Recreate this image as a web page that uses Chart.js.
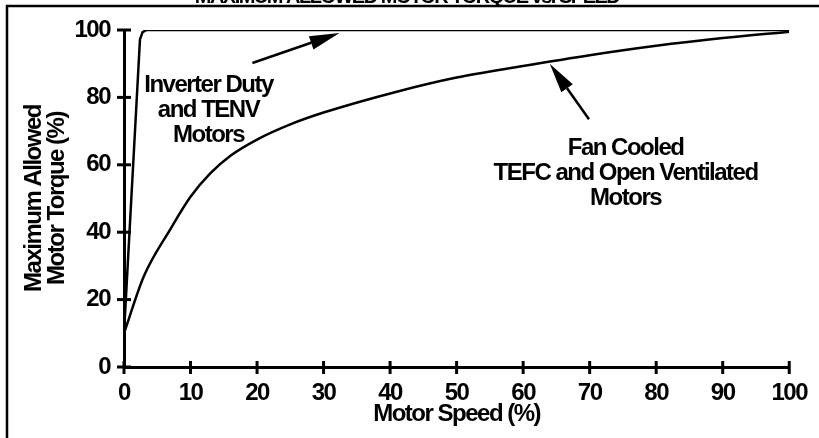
<!DOCTYPE html>
<html>
<head>
<meta charset="utf-8">
<script src="https://cdn.jsdelivr.net/npm/chart.js@4.4.1/dist/chart.umd.min.js"></script>
<style>
  html, body { margin: 0; padding: 0; background: #fff; overflow: hidden; }
  canvas { display: block; }
</style>
</head>
<body>
<canvas id="chartTorque" width="819" height="438"></canvas>
<script>
// courbe moteur ventilé (TEFC / ouvert)
const fanSpeed  = [0, 3, 7, 10, 13, 16, 20, 25, 30, 41, 50, 60, 70, 80, 90, 100];
const fanTorque = [10, 27, 41, 50.5, 57.5, 62.7, 67.5, 72, 75.5, 81.7, 85.9, 89.3, 92.5, 95.3, 97.6, 99.5];

// courbe inverter duty / TENV
const invSpeed  = [0, 2.4, 2.8, 3.4, 100];
const invTorque = [10, 97.2, 99.4, 100, 100];

const xTicks = [0, 10, 20, 30, 40, 50, 60, 70, 80, 90, 100];
const yTicks = [0, 20, 40, 60, 80, 100];

const FONT = "'Liberation Sans', Arial, sans-serif";
const SPACING = '-1.5px';

const toPoints = (xs, ys) => xs.map((x, i) => ({ x: x, y: ys[i] }));

// police étroite simulée : espacement des lettres réduit
const narrowPlugin = {
  id: 'narrow',
  beforeUpdate(chart) { chart.ctx.letterSpacing = SPACING; },
  beforeDraw(chart) { chart.ctx.letterSpacing = SPACING; }
};

// marques de graduation qui traversent les axes + cadre, titre, flèches, textes
const decorPlugin = {
  id: 'decor',
  afterDraw(chart) {
    const ctx = chart.ctx;
    const xs = chart.scales.x, ys = chart.scales.y;
    const x0 = xs.getPixelForValue(0), y0 = ys.getPixelForValue(0);
    ctx.save();
    ctx.strokeStyle = '#000';
    ctx.fillStyle = '#000';

    ctx.lineWidth = 3;
    xTicks.forEach(v => {
      const p = xs.getPixelForValue(v);
      ctx.beginPath(); ctx.moveTo(p, y0 - 6); ctx.lineTo(p, y0 + 7); ctx.stroke();
    });
    yTicks.forEach(v => {
      const p = ys.getPixelForValue(v);
      ctx.beginPath(); ctx.moveTo(x0 - 7, p); ctx.lineTo(x0 + 7, p); ctx.stroke();
    });

    // cadre
    ctx.lineWidth = 2.5;
    ctx.beginPath(); ctx.moveTo(7, 438); ctx.lineTo(7, 6); ctx.lineTo(819, 6); ctx.stroke();

    // titre coupé en haut
    ctx.font = 'bold 20px ' + FONT;
    ctx.textAlign = 'center';
    ctx.textBaseline = 'alphabetic';
    ctx.fillText('MAXIMUM ALLOWED MOTOR TORQUE vs. SPEED', 407, 3);

    const arrow = (tx, ty, hx, hy) => {
      const ax = xs.getPixelForValue(tx), ay = ys.getPixelForValue(ty);
      const bx = xs.getPixelForValue(hx), by = ys.getPixelForValue(hy);
      const ang = Math.atan2(by - ay, bx - ax);
      const len = 30, hw = 7;
      const cx = bx - len * Math.cos(ang), cy = by - len * Math.sin(ang);
      ctx.lineWidth = 2.5;
      ctx.beginPath(); ctx.moveTo(ax, ay); ctx.lineTo(cx, cy); ctx.stroke();
      ctx.beginPath();
      ctx.moveTo(bx, by);
      ctx.lineTo(cx + hw * Math.sin(ang), cy - hw * Math.cos(ang));
      ctx.lineTo(cx - hw * Math.sin(ang), cy + hw * Math.cos(ang));
      ctx.closePath(); ctx.fill();
    };
    arrow(19.3, 90.2, 32.4, 99.1);
    arrow(69.9, 73.5, 64.0, 90.0);

    ctx.font = 'bold 24px ' + FONT;
    ctx.textAlign = 'center';
    const label = (lines, x, yTop) => {
      lines.forEach((t, i) => {
        ctx.fillText(t, xs.getPixelForValue(x), ys.getPixelForValue(yTop) + i * 25);
      });
    };
    label(['Inverter Duty', 'and TENV', 'Motors'], 12.7, 81.6);
    label(['Fan Cooled', 'TEFC and Open Ventilated', 'Motors'], 75.4, 62.9);

    ctx.restore();
  }
};

function draw() {
  new Chart(document.getElementById('chartTorque'), {
    type: 'line',
    data: {
      datasets: [{
        label: 'Inverter Duty and TENV Motors',
        data: toPoints(invSpeed, invTorque),
        borderColor: '#000',
        borderWidth: 2.5,
        pointRadius: 0,
        tension: 0,
        fill: false
      },{
        label: 'Fan Cooled TEFC and Open Ventilated Motors',
        data: toPoints(fanSpeed, fanTorque),
        borderColor: '#000',
        borderWidth: 2.5,
        pointRadius: 0,
        cubicInterpolationMode: 'monotone',
        fill: false
      }]
    },
    options: {
      responsive: false,
      animation: false,
      layout: { padding: { top: 30, right: 25, left: 0, bottom: 0 } },
      plugins: { legend: { display: false }, tooltip: { enabled: false } },
      scales: {
        x: {
          type: 'linear', min: 0, max: 100,
          afterFit: s => { s.height = 71; },
          afterBuildTicks: s => { s.ticks = xTicks.map(v => ({ value: v })); },
          grid: { display: false, drawTicks: false },
          border: { display: true, color: '#000', width: 3 },
          ticks: { color: '#000', padding: 12, maxRotation: 0, autoSkip: false,
                   font: { family: FONT, size: 24, weight: 'bold' } },
          title: { display: true, text: 'Motor Speed (%)', color: '#000',
                   padding: { top: 0, bottom: 9 },
                   font: { family: FONT, size: 24, weight: 'bold', lineHeight: 1.2 } }
        },
        y: {
          min: 0, max: 100,
          afterFit: s => { s.width = 124; },
          afterBuildTicks: s => { s.ticks = yTicks.map(v => ({ value: v })); },
          grid: { display: false, drawTicks: false },
          border: { display: true, color: '#000', width: 3 },
          ticks: { color: '#000', padding: 14, autoSkip: false,
                   font: { family: FONT, size: 24, weight: 'bold' } },
          title: { display: true, text: ['Maximum Allowed', 'Motor Torque (%)'], color: '#000',
                   padding: { top: 23, bottom: 0 },
                   font: { family: FONT, size: 24, weight: 'bold', lineHeight: 0.96 } }
        }
      }
    },
    plugins: [narrowPlugin, decorPlugin]
  });
}

draw();
</script>
</body>
</html>
